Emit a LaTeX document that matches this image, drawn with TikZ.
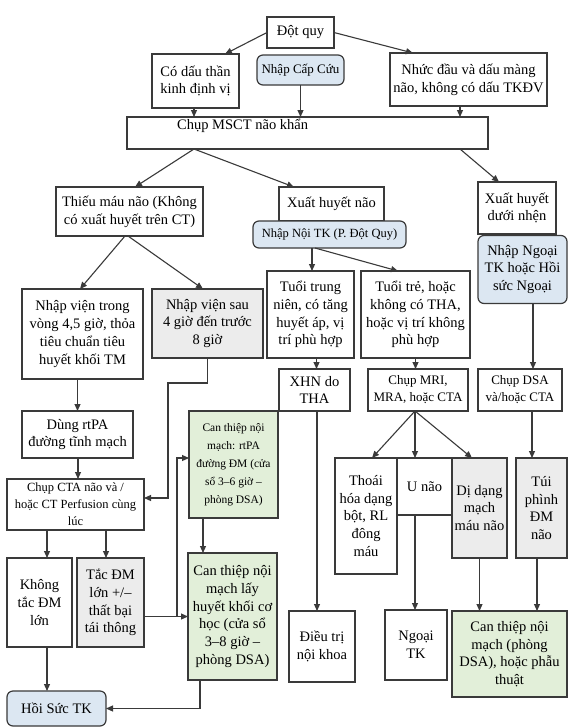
\documentclass[tikz,border=0pt]{standalone}
\usepackage{fontspec}
\setmainfont{Liberation Serif}
\usetikzlibrary{arrows.meta,calc}
\definecolor{bordc}{HTML}{3A3A3A}
\definecolor{bluef}{HTML}{DCE7F2}
\definecolor{greenf}{HTML}{E2EFD9}
\definecolor{grayf}{HTML}{ECECEC}
\newcommand\fszA{\fontsize{14.5}{17.7}\selectfont}
\newcommand\fszB{\fontsize{13}{17}\selectfont}
\newcommand\fszC{\fontsize{12.5}{17}\selectfont}
\newcommand\fszD{\fontsize{11.5}{18}\selectfont}
\tikzset{
  box/.style={draw=bordc, line width=1.2pt, fill=white, inner sep=1pt, outer sep=0pt, align=center, font=\fszA, text=black},
  bluebox/.style={box, fill=bluef, rounded corners=6pt},
  greenbox/.style={box, fill=greenf},
  graybox/.style={box, fill=grayf},
  arr/.style={draw=bordc, line width=1.1pt, -{Triangle[length=7pt,width=6pt]}},
}
\begin{document}
\begin{tikzpicture}[x=1pt,y=-1pt]
\useasboundingbox (0,0) rectangle (577,728);
\fill[white] (0,0) rectangle (577,728);

% top row
\node[box, minimum width=67, minimum height=31] (dotquy) at (300.5,32.5) {Đột quy};
\node[box, minimum width=87, minimum height=54] (codau) at (195.5,81) {Có dấu thần\\kinh định vị};
\node[bluebox, font=\fszB, minimum width=87, minimum height=30] (capcuu) at (300.5,70) {Nhập Cấp Cứu};
\node[box, minimum width=157, minimum height=53] (nhucdau) at (468.5,79.5) {Nhức đầu và dấu màng\\não, không có dấu TKĐV};
\node[box, minimum width=361, minimum height=32] (msct) at (307.5,133) {};
\node[font=\fszA, anchor=west, inner sep=0pt] (mscttext) at (177,126) {Chụp MSCT não khẩn};

% second row
\node[box, minimum width=147, minimum height=49] (thieumau) at (129.5,211.5) {Thiếu máu não (Không\\có xuất huyết trên CT)};
\node[box, minimum width=105, minimum height=34] (xhn) at (331.5,204) {Xuất huyết não};
\node[bluebox, font=\fszC, minimum width=153, minimum height=27] (noitk) at (329.5,234.5) {Nhập Nội TK (P. Đột Quy)};
\node[box, minimum width=78, minimum height=52] (xhdn) at (517,208) {Xuất huyết\\dưới nhện};
\node[bluebox, minimum width=89, minimum height=68] (ngoaitk) at (522.5,269.5) {Nhập Ngoại\\TK hoặc Hồi\\sức Ngoại};

% third row
\node[box, minimum width=121, minimum height=90] (nvtrong) at (82.5,334) {Nhập viện trong\\vòng 4,5 giờ, thỏa\\tiêu chuẩn tiêu\\huyết khối TM};
\node[graybox, minimum width=111, minimum height=69] (nvsau) at (207.5,323.5) {Nhập viện sau\\4 giờ đến trước\\8 giờ};
\node[box, minimum width=87, minimum height=87] (tuoitn) at (310.5,314.5) {Tuổi trung\\niên, có tăng\\huyết áp, vị\\trí phù hợp};
\node[box, minimum width=109, minimum height=87] (tuoitre) at (415.5,314.5) {Tuổi trẻ, hoặc\\không có THA,\\hoặc vị trí không\\phù hợp};

\node[box, minimum width=71, minimum height=42] (xhntha) at (314.5,390) {XHN do\\THA};
\node[box, font=\fszB, minimum width=100, minimum height=42] (mri) at (418,390) {Chụp MRI,\\MRA, hoặc CTA};
\node[box, font=\fszB, minimum width=84, minimum height=42] (dsa) at (520,390) {Chụp DSA\\và/hoặc CTA};

\node[box, minimum width=111, minimum height=47] (rtpa) at (77.5,434.5) {Dùng rtPA\\đường tĩnh mạch};
\node[box, font=\fszC, minimum width=137, minimum height=51] (cta) at (75.5,504.5) {Chụp CTA não và /\\hoặc CT Perfusion cùng\\lúc};
\node[greenbox, font=\fszD, minimum width=89, minimum height=107] (ctrtpa) at (233.5,464.5) {Can thiệp nội\\mạch: rtPA\\đường ĐM (cửa\\sổ 3–6 giờ –\\phòng DSA)};
\node[greenbox, minimum width=89, minimum height=127] (ctlhk) at (232.5,616.5) {Can thiệp nội\\mạch lấy\\huyết khối cơ\\học (cửa sổ\\3–8 giờ –\\phòng DSA)};
\node[box, minimum width=65, minimum height=89] (khongtac) at (39.5,602.5) {Không\\tắc ĐM\\lớn};
\node[graybox, minimum width=67, minimum height=89] (tacdm) at (110.5,602.5) {Tắc ĐM\\lớn +/–\\thất bại\\tái thông};
\node[bluebox, minimum width=99, minimum height=35] (hoisuc) at (56.5,708.5) {Hồi Sức TK};

\node[box, minimum width=62, minimum height=116] (thoai) at (366,516) {Thoái\\hóa dạng\\bột, RL\\đông\\máu};
\node[box, minimum width=55, minimum height=57] (unao) at (424.5,486.5) {U não};
\node[graybox, minimum width=55, minimum height=100] (didang) at (479.5,508) {Dị dạng\\mạch\\máu não};
\node[graybox, minimum width=51, minimum height=100] (tuiphinh) at (541.5,508) {Túi\\phình\\ĐM\\não};

\node[box, minimum width=66, minimum height=71] (dieutri) at (322,646.5) {Điều trị\\nội khoa};
\node[box, minimum width=62, minimum height=70] (ngoai) at (416,645) {Ngoại\\TK};
\node[greenbox, minimum width=115, minimum height=86] (ctnm) at (509.5,654) {Can thiệp nội\\mạch (phòng\\DSA), hoặc phẫu\\thuật};

% connectors top
\draw[arr] (dotquy.west) -- ([xshift=-14pt]codau.north east);
\draw[arr] (dotquy.east) -- ([xshift=23pt]nhucdau.north west);
\draw[arr] ([xshift=-1.5pt]codau.south) -- ([xshift=-1.5pt]codau.south |- msct.north);
\draw[arr] (capcuu.south) -- (capcuu.south |- msct.north);
\draw[arr] ([xshift=-8.5pt]nhucdau.south) -- ([xshift=-8.5pt]nhucdau.south |- msct.north);
\draw[arr] ([xshift=67pt]msct.south west) -- ([xshift=5.5pt]thieumau.north);
\draw[arr] ([xshift=67pt]msct.south west) -- ([xshift=15pt]xhn.north west);
\draw[arr] ([xshift=-28pt]msct.south east) -- ([xshift=21pt]xhdn.north west);

% ischemic branch
\draw[arr] ([xshift=-4.5pt]thieumau.south) -- ([xshift=-2.5pt]nvtrong.north);
\draw[arr] ([xshift=-1.5pt]thieumau.south) -- ([xshift=-4.5pt]nvsau.north);
\draw[arr] (rtpa.north |- nvtrong.south) -- (rtpa.north);
\draw[arr] ([xshift=0.5pt]rtpa.south) -- ([xshift=0.5pt]rtpa.south |- cta.north);
\coordinate (j1) at (168,383);
\draw[arr] (nvsau.south) |- (j1) |- ([yshift=6.5pt]cta.east);
\draw[arr] ([xshift=7.5pt]khongtac.north |- cta.south) -- ([xshift=7.5pt]khongtac.north);
\draw[arr] ([xshift=-4.5pt]tacdm.north |- cta.south) -- ([xshift=-4.5pt]tacdm.north);
\draw[arr] (tacdm.east |- ctlhk.west) -- (ctlhk.west);
\coordinate (j2) at (177,616.5);
\draw[arr] (j2) |- ([yshift=6.5pt]ctrtpa.west);
\draw[arr] ([xshift=-30.5pt]ctrtpa.south) -- ([xshift=-30.5pt]ctrtpa.south |- ctlhk.north);
\draw[arr] ([xshift=7.5pt]khongtac.south) -- ([xshift=7.5pt]khongtac.south |- hoisuc.north);
\draw[arr] ([xshift=-32.5pt]ctlhk.south) |- (hoisuc.east);

% haemorrhagic branch
\draw[arr] ([xshift=-17.5pt]noitk.south) -- ([xshift=-17.5pt]noitk.south |- tuoitn.north);
\draw[arr] ([xshift=-14.5pt]noitk.south) -- ([xshift=37pt]tuoitre.north west);
\draw[arr] ([xshift=6pt]tuoitn.south) -- ([xshift=6pt]tuoitn.south |- xhntha.north);
\draw[arr] (tuoitre.south) -- (tuoitre.south |- mri.north);
\draw[arr] ([xshift=-3pt]mri.south) -- ([xshift=6pt]thoai.north);
\draw[arr] ([xshift=-3pt]mri.south) -- ([xshift=-3pt]mri.south |- unao.north);
\draw[arr] ([xshift=-3pt]mri.south) -- ([xshift=-7.5pt]didang.north);
\draw[arr] ([xshift=2.5pt]xhntha.south) -- ([xshift=2.5pt]xhntha.south |- dieutri.north);
\draw[arr] ([xshift=-9.5pt]unao.south) -- ([xshift=-9.5pt]unao.south |- ngoai.north);
\draw[arr] (didang.south) -- (didang.south |- ctnm.north);
\draw[arr] ([xshift=-4.5pt]tuiphinh.south) -- ([xshift=-4.5pt]tuiphinh.south |- ctnm.north);

% subarachnoid branch
\draw[arr] ([xshift=10.5pt]ngoaitk.south) -- ([xshift=10.5pt]ngoaitk.south |- dsa.north);
\draw[arr] ([xshift=-9.5pt]tuiphinh.north |- dsa.south) -- ([xshift=-9.5pt]tuiphinh.north);
\end{tikzpicture}
\end{document}
